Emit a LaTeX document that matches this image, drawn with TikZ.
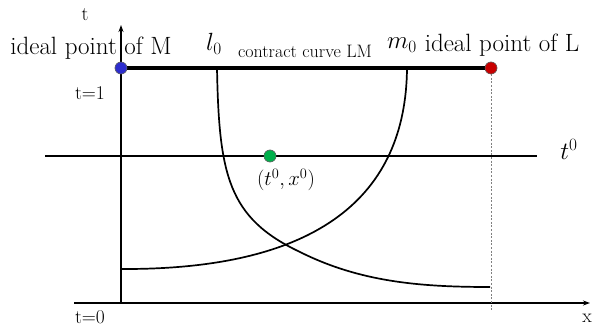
\documentclass[tikz,border=0pt]{standalone}
\usetikzlibrary{arrows.meta}
\definecolor{dotblue}{RGB}{45,45,205}
\definecolor{dotred}{RGB}{200,0,0}
\definecolor{dotgreen}{RGB}{0,175,75}
\tikzset{
  axisline/.style={line width=1.6pt, -{Stealth[length=7pt,width=5pt]}},
  curveline/.style={line width=1.7pt},
  dotnode/.style={circle, inner sep=0pt, minimum size=12pt, draw=black!60, line width=0.5pt},
  bigtext/.style={font=\fontsize{25}{29}\selectfont, inner sep=0pt},
  midtext/.style={font=\fontsize{19.5}{23}\selectfont, inner sep=0pt},
  smalltext/.style={font=\fontsize{18}{21}\selectfont, inner sep=0pt},
}
\begin{document}
\begin{tikzpicture}[x=1pt,y=-1pt]
\useasboundingbox (0,0) rectangle (596,331);
% coordinates
\coordinate (o) at (121,303);
\coordinate (ttop) at (121,25);
\coordinate (xl) at (74,303);
\coordinate (xr) at (590,303);
\coordinate (hl) at (45,156);
\coordinate (hr) at (537,156);
\coordinate (dashend) at (491,310);
\coordinate (l0top) at (217,68);
\coordinate (cross) at (300,252);
\coordinate (l0end) at (490,287);
\coordinate (m0start) at (121,269);
\coordinate (m0top) at (407,68);
% dots
\node[dotnode, fill=dotblue] (M) at (121,68) {};
\node[dotnode, fill=dotred] (L) at (491,68) {};
\node[dotnode, fill=dotgreen] (P) at (270,156) {};
% axes
\draw[axisline] (o) -- (ttop);
\draw[axisline] (xl) -- (xr);
% dashed
\draw[gray, line width=0.7pt, dash pattern=on 2pt off 1.6pt] (L) -- (dashend);
% t0 line
\draw[curveline] (hl) -- (P) -- (hr);
% curves
\draw[curveline] (l0top) .. controls (219,175) and (228,218) .. (cross) .. controls (360,282) and (420,287) .. (l0end);
\draw[curveline] (m0start) .. controls (320,270) and (406,195) .. (m0top);
% thick contract line
\draw[line width=4.5pt] (M) -- (L);
\node[dotnode, fill=dotblue] at (M) {};
\node[dotnode, fill=dotred] at (L) {};
\node[dotnode, fill=dotgreen] at (P) {};
% labels
\node[midtext] (tlab) at (85,15) {t};
\node[bigtext] (Mlab) at (91,48) {ideal point of M};
\node[bigtext] (Llab) at (502,45) {ideal point of L};
\node[bigtext] (l0lab) at (214,44) {$l_0$};
\node[smalltext] (cclab) at (305,51) {contract curve LM};
\node[bigtext] (m0lab) at (402,45) {$m_0$};
\node[midtext] (t1lab) at (90,93) {t=1};
\node[bigtext] (t0lab) at (569,149) {$t^0$};
\node[midtext] (plab) at (286,180) {$(t^0,x^0)$};
\node[midtext] (t0zero) at (90,317) {t=0};
\node[midtext] (xlab) at (587,318) {x};
\end{tikzpicture}
\end{document}
